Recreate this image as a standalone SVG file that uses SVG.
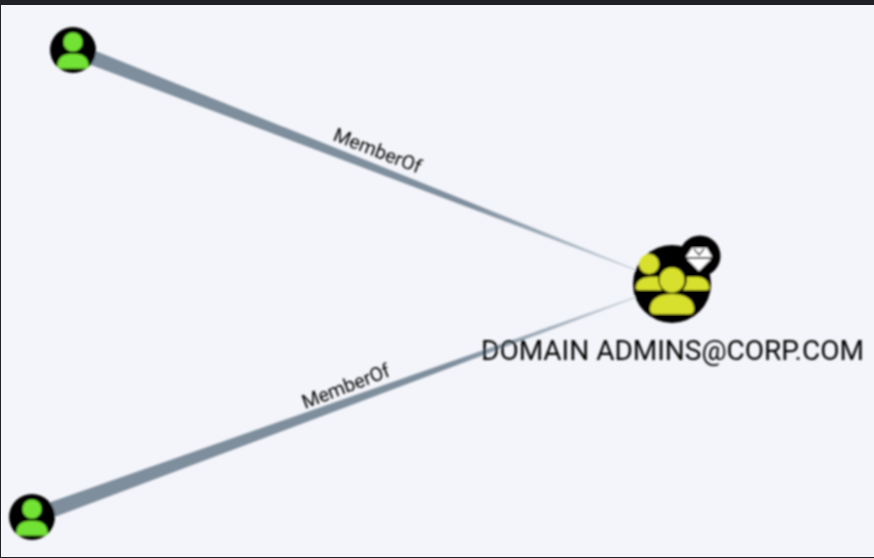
<svg xmlns="http://www.w3.org/2000/svg" width="874" height="558" viewBox="0 0 874 558">
<style>
.bg{fill:#f4f5fa}
.frame{fill:#1f2126}
.disc{fill:#000}
.user{fill:#72e236}
.group{fill:#d8e02e}
.edge-label{font:19.500px Roboto,"Liberation Sans",sans-serif;fill:#000}
.name{font:28px Roboto,"Liberation Sans",sans-serif;fill:#000}
</style>
<defs>
<filter id="soft" filterUnits="userSpaceOnUse" x="0" y="0" width="874" height="558"><feGaussianBlur stdDeviation="0.8"/></filter>
<linearGradient id="e1" gradientUnits="userSpaceOnUse" x1="73" y1="50" x2="636" y2="270"><stop offset="0" stop-color="#7e8e9d"/><stop offset="0.7" stop-color="#7e8e9d"/><stop offset="1" stop-color="#c2ccd6"/></linearGradient>
<linearGradient id="e2" gradientUnits="userSpaceOnUse" x1="32" y1="517" x2="636" y2="297"><stop offset="0" stop-color="#7e8e9d"/><stop offset="0.7" stop-color="#7e8e9d"/><stop offset="1" stop-color="#c2ccd6"/></linearGradient>
<g id="person"><circle cx="0" cy="-8" r="9.500" class="user"/><path d="M-15.500 16 C-15.500 8 -10 4 -3 4 L3 4 C10 4 15.500 8 15.500 16 Q15.500 18.500 13 18.500 L-13 18.500 Q-15.500 18.500 -15.500 16 Z" class="user"/></g>
</defs>
<rect class="bg" width="874" height="558"/>
<g filter="url(#soft)">
<g id="connectors">
<polygon points="76,43 636,269.500 635.600,270.500 70,57" fill="url(#e1)"/>
<polygon points="28,510 636,296.500 636.400,297.500 36,524" fill="url(#e2)"/>
</g>
<g id="labels">
<text class="edge-label" transform="translate(332,140) rotate(21.300)">MemberOf</text>
<text class="edge-label" transform="translate(305,409) rotate(-21)">MemberOf</text>
</g>
<g id="node-user-1"><circle class="disc" cx="73" cy="50" r="23"/><use href="#person" x="73" y="50"/></g>
<g id="node-user-2"><circle class="disc" cx="32" cy="517" r="23"/><use href="#person" x="32" y="517"/></g>
<g id="node-domain-admins">
<circle class="disc" cx="672" cy="284" r="39"/>
<circle class="disc" cx="700" cy="256" r="20.500"/>
<path d="M686 257 L692 248 L707 248 L712 257 Z M687 259 L711 259 L699 271 Z" fill="#fff"/>
<path d="M694 249 L699 255 L704 249" fill="none" stroke="#000" stroke-width="1.400"/>
<circle class="group" cx="649" cy="264" r="10"/>
<path d="M636 288 C636 281 642 277 650 277 L658 277 C658 282 659 286 662 290 L638 290 Q636 290 636 288 Z" class="group"/>
<path d="M709 288 C709 281 704 277 698 277 L687 277 C687 282 686 286 683 290 L707 290 Q709 290 709 288 Z" class="group"/>
<circle class="group" cx="672" cy="280" r="12.500"/>
<path d="M650 309 C650 299 660 294 672 294 C684 294 694 299 694 309 Q694 314 689 314 L655 314 Q650 314 650 309 Z" class="group"/>
<text class="name" x="481" y="360">DOMAIN ADMINS@CORP.COM</text>
</g>
</g>
<rect class="frame" width="874" height="5"/>
<rect class="frame" y="0" width="1" height="558"/>
<rect class="frame" y="557" width="874" height="1"/>
</svg>
